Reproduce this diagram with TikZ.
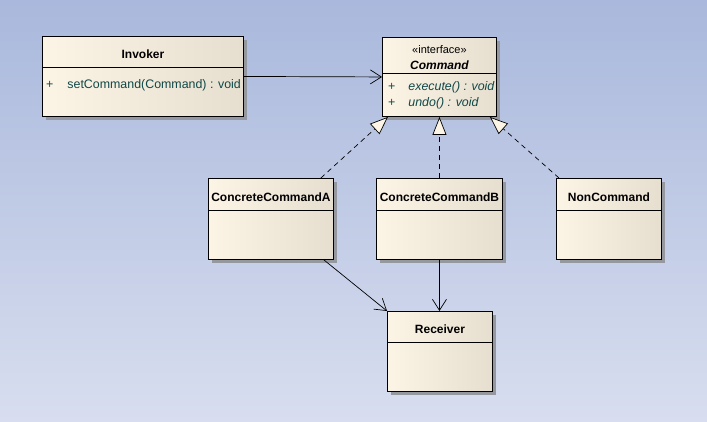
\documentclass[tikz,border=0pt]{standalone}
\usepackage{fontspec}
\setmainfont{Liberation Sans}
\usetikzlibrary{arrows.meta,shadows}

\definecolor{bgtop}{RGB}{169,184,220}
\definecolor{bgbot}{RGB}{216,222,239}
\definecolor{boxlight}{RGB}{252,244,229}
\definecolor{boxdark}{RGB}{230,222,207}
\definecolor{shadowgray}{RGB}{150,152,160}
\definecolor{optext}{RGB}{16,72,72}

\begin{document}
\begin{tikzpicture}[x=1pt,y=-1pt,
    cls/.style = {draw, line width=0.9pt, anchor=north west, inner sep=0pt,
                  left color=boxlight, right color=boxdark,
                  drop shadow={shadow xshift=4pt, shadow yshift=-4pt, fill=shadowgray, opacity=1}},
    title/.style = {inner sep=0pt, font=\fontsize{12}{14}\selectfont\bfseries},
    op/.style = {inner sep=0pt, anchor=base west, text=optext, font=\fontsize{12.4}{14}\selectfont},
    sep/.style = {line width=0.9pt},
    assoc/.style = {line width=0.7pt, -{Straight Barb[length=11pt,width=14pt,line width=0.7pt]}},
    real/.style = {line width=0.7pt, dash pattern=on 5pt off 4pt,
                   -{Triangle[open,length=18pt,width=14pt,line width=0.7pt,fill=boxlight]}}]
                \fill[top color=bgtop, bottom color=bgbot] (0,0) rectangle (707,422);
                \useasboundingbox (0,0) rectangle (707,422);
                % classes
                \node[cls, minimum width=201pt, minimum height=80pt] (inv) at (42,36) {};
                \node[cls, minimum width=114pt, minimum height=79pt] (cmd) at (382,37) {};
                \node[cls, minimum width=125pt, minimum height=81pt] (cca) at (208,178) {};
                \node[cls, minimum width=126pt, minimum height=81pt] (ccb) at (376,178) {};
                \node[cls, minimum width=105pt, minimum height=81pt] (non) at (556,178) {};
                \node[cls, minimum width=105pt, minimum height=80pt] (rec) at (387,311) {};
                % compartments
                \draw[sep] ([yshift=-31pt]inv.north west) -- ([yshift=-31pt]inv.north east);
                \draw[sep] ([yshift=-36pt]cmd.north west) -- ([yshift=-36pt]cmd.north east);
                \draw[sep] ([yshift=-32pt]cca.north west) -- ([yshift=-32pt]cca.north east);
                \draw[sep] ([yshift=-32pt]ccb.north west) -- ([yshift=-32pt]ccb.north east);
                \draw[sep] ([yshift=-32pt]non.north west) -- ([yshift=-32pt]non.north east);
                \draw[sep] ([yshift=-31pt]rec.north west) -- ([yshift=-31pt]rec.north east);
                % names
                \node[title] (inv-t) at ([yshift=-18pt]inv.north) {Invoker};
                \node[inner sep=0pt, font=\fontsize{11}{13}\selectfont] (cmd-s) at ([yshift=-13pt]cmd.north) {«interface»};
                \node[title, font=\fontsize{12}{14}\selectfont\bfseries\itshape] (cmd-t) at ([yshift=-28pt]cmd.north) {Command};
                \node[title] (cca-t) at ([yshift=-19pt]cca.north) {ConcreteCommandA};
                \node[title] (ccb-t) at ([yshift=-19pt]ccb.north) {ConcreteCommandB};
                \node[title] (non-t) at ([yshift=-19pt]non.north) {NonCommand};
                \node[title] (rec-t) at ([yshift=-18pt]rec.north) {Receiver};
                % operations
                \node[op] (inv-m1) at (46,89) {+\hspace{14pt}setCommand(Command) : void};
                \node[op] (cmd-m1) at (388,91) {+\hspace{13pt}\itshape execute() : void};
                \node[op] (cmd-m2) at (388,107) {+\hspace{13pt}\itshape undo() : void};
                % connectors
                \draw[assoc] (inv.east) -- (cmd.west);
                \draw[real] ([xshift=-13pt]cca.north east) -- ([xshift=6pt]cmd.south west);
                \draw[real] (ccb.north) -- (cmd.south);
                \draw[real] ([xshift=3pt]non.north west) -- ([xshift=-7pt]cmd.south east);
                \draw[assoc] ([xshift=-10pt]cca.south east) -- (rec.north west);
                \draw[assoc] (ccb.south) -- (ccb.south |- rec.north);
            \end{tikzpicture}
\end{document}
